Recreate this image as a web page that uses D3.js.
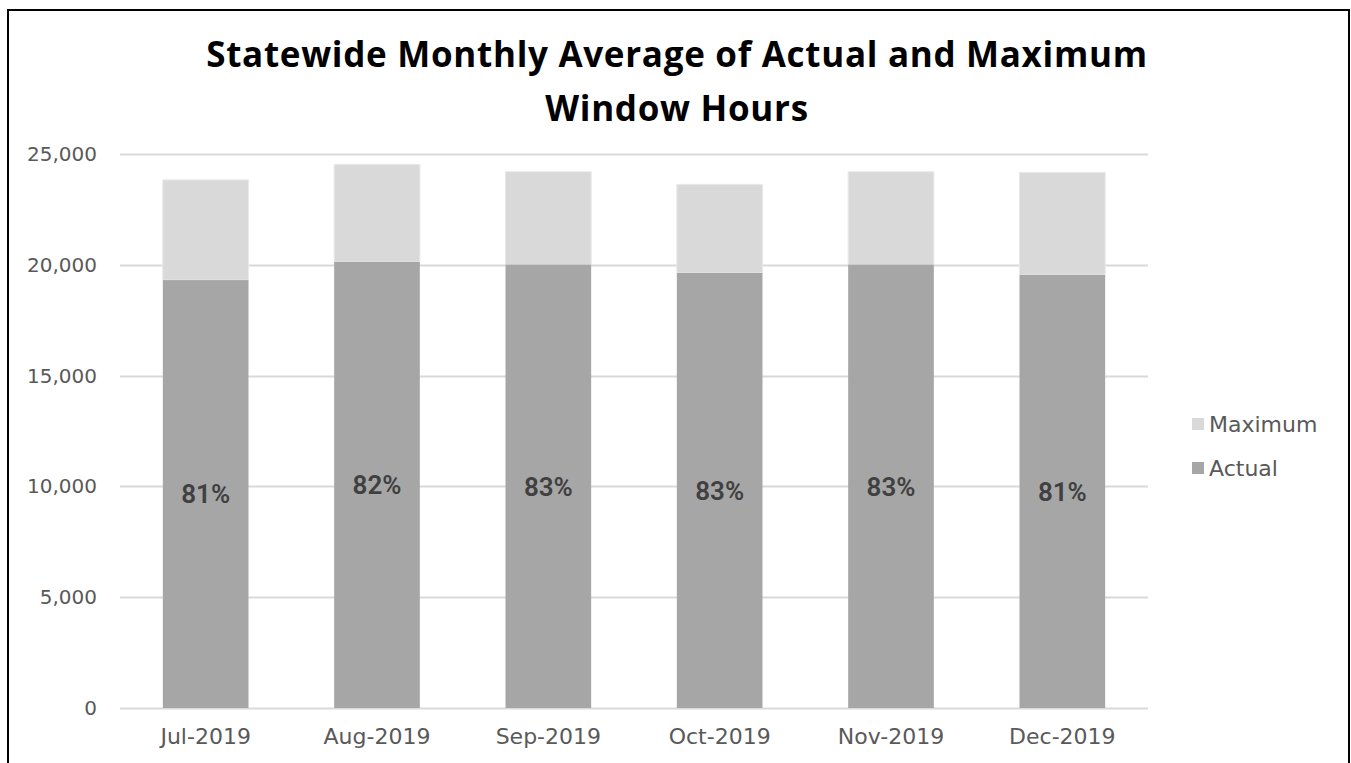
<!DOCTYPE html>
<html>
<head>
<meta charset="utf-8">
<script src="https://cdn.jsdelivr.net/npm/d3@7"></script>
<style>
  body { margin: 0; background: #fff; }
  svg { display: block; }
</style>
</head>
<body>
<div id="chart"></div>
<script>
// chart values
var months = ['Jul-2019', 'Aug-2019', 'Sep-2019', 'Oct-2019', 'Nov-2019', 'Dec-2019'];
var actual = [19310, 20130, 20010, 19630, 20010, 19540];
var maximum = [23830, 24530, 24200, 23630, 24200, 24170];
var pctLabels = ['81%', '82%', '83%', '83%', '83%', '81%'];
var yTicks = [0, 5000, 10000, 15000, 20000, 25000];
var seriesNames = ['Maximum', 'Actual'];
var titleLines = ['Statewide Monthly Average of Actual and Maximum', 'Window Hours'];

var W = 1351, H = 763;
var margin = { top: 154, left: 120, right: 203, bottom: 55 };
var width = W - margin.left - margin.right,
    height = H - margin.top - margin.bottom;

var colors = { Maximum: '#d9d9d9', Actual: '#a6a6a6' };

var svg = d3.select('#chart').append('svg')
    .attr('width', W)
    .attr('height', H);

// outer frame
svg.append('rect')
    .attr('x', 8).attr('y', 10)
    .attr('width', 1341).attr('height', 800)
    .attr('fill', 'none')
    .attr('stroke', '#000')
    .attr('stroke-width', 2);

// title
svg.append('text')
    .attr('font-family', 'Open Sans, sans-serif')
    .attr('font-weight', 'bold')
    .attr('font-size', '35px')
    .attr('letter-spacing', '0.7px')
    .attr('fill', '#000')
    .attr('text-anchor', 'middle')
    .selectAll('tspan')
    .data(titleLines)
    .enter()
    .append('tspan')
    .attr('x', 677)
    .attr('y', function(d, i) { return 67 + i * 54; })
    .text(function(d) { return d; });

var x = d3.scaleBand()
    .domain(months)
    .range([0, width])
    .paddingInner(0.5)
    .paddingOuter(0.25);

var y = d3.scaleLinear()
    .domain([0, 25000])
    .range([height, 0]);

var g = svg.append('g')
    .attr('transform', 'translate(' + margin.left + ',' + margin.top + ')');

// gridlines
g.selectAll('line.grid')
    .data(yTicks)
    .enter()
    .append('line')
    .attr('class', 'grid')
    .attr('x1', 0)
    .attr('x2', width)
    .attr('y1', function(d) { return Math.round(y(d)) + 0.5; })
    .attr('y2', function(d) { return Math.round(y(d)) + 0.5; })
    .attr('stroke', '#d9d9d9')
    .attr('stroke-width', 2);

// y axis labels
var yAxis = d3.axisLeft(y)
    .tickValues(yTicks)
    .tickSize(0)
    .tickPadding(23)
    .tickFormat(d3.format(','));

var yAxisG = g.append('g').call(yAxis);
yAxisG.select('.domain').remove();
yAxisG.selectAll('text')
    .attr('font-family', 'DejaVu Sans, sans-serif')
    .attr('font-size', '20px')
    .attr('fill', '#595959');

// stacked bars: maximum (total) drawn behind, actual in front
g.selectAll('rect.max')
    .data(months)
    .enter()
    .append('rect')
    .attr('class', 'max')
    .attr('x', function(d) { return x(d); })
    .attr('width', x.bandwidth())
    .attr('y', function(d, i) { return y(maximum[i]); })
    .attr('height', function(d, i) { return y(actual[i]) - y(maximum[i]); })
    .attr('fill', colors.Maximum)
    .attr('stroke', '#e8e8e8')
    .attr('stroke-width', 1);

g.selectAll('rect.act')
    .data(months)
    .enter()
    .append('rect')
    .attr('class', 'act')
    .attr('x', function(d) { return x(d); })
    .attr('width', x.bandwidth())
    .attr('y', function(d, i) { return y(actual[i]); })
    .attr('height', function(d, i) { return height - y(actual[i]); })
    .attr('fill', colors.Actual);

// percentage labels centred in the actual segment
g.selectAll('text.pct')
    .data(months)
    .enter()
    .append('text')
    .attr('class', 'pct')
    .attr('x', function(d) { return x(d) + x.bandwidth() / 2; })
    .attr('y', function(d, i) { return y(actual[i] / 2); })
    .attr('dy', '0.36em')
    .attr('text-anchor', 'middle')
    .attr('font-family', 'Roboto, sans-serif')
    .attr('font-weight', '600')
    .attr('font-size', '26px')
    .attr('fill', '#404040')
    .text(function(d, i) { return pctLabels[i]; });

// x axis labels
var xAxis = d3.axisBottom(x)
    .tickSize(0)
    .tickPadding(20);

var xAxisG = g.append('g')
    .attr('transform', 'translate(0,' + height + ')')
    .call(xAxis);
xAxisG.select('.domain').remove();
xAxisG.selectAll('text')
    .attr('font-family', 'DejaVu Sans, sans-serif')
    .attr('font-size', '22px')
    .attr('fill', '#595959');

// legend
var legend = svg.append('g')
    .attr('transform', 'translate(1192,424)');

var items = legend.selectAll('g')
    .data(seriesNames)
    .enter()
    .append('g')
    .attr('transform', function(d, i) { return 'translate(0,' + (i * 44) + ')'; });

items.append('rect')
    .attr('x', 0)
    .attr('y', -6)
    .attr('width', 12)
    .attr('height', 12)
    .attr('fill', function(d) { return colors[d]; });

items.append('text')
    .attr('x', 17)
    .attr('y', 0)
    .attr('dy', '0.36em')
    .attr('font-family', 'DejaVu Sans, sans-serif')
    .attr('font-size', '22px')
    .attr('fill', '#595959')
    .text(function(d) { return d; });
</script>
</body>
</html>
